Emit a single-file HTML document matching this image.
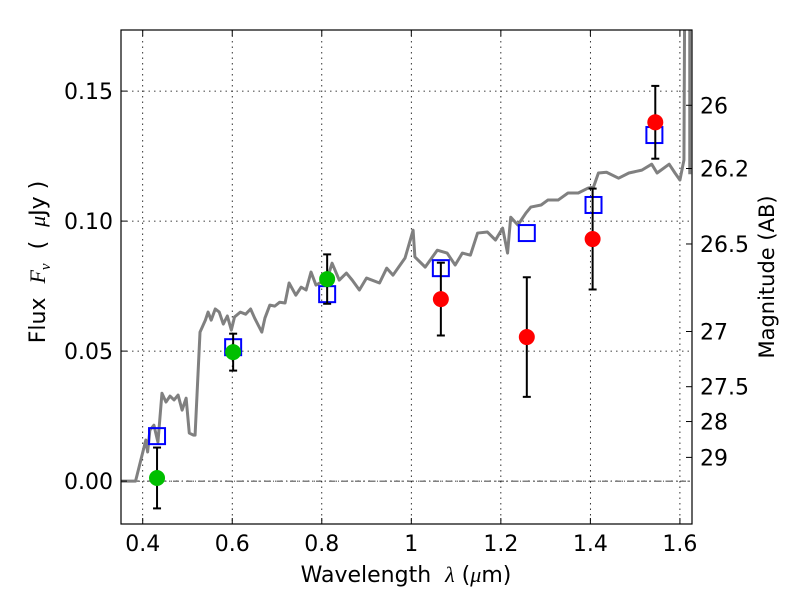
<!DOCTYPE html>
<html><head><meta charset="utf-8"><style>
html,body{margin:0;padding:0;background:#fff;}
svg{display:block;font-family:"DejaVu Sans","Liberation Sans",sans-serif;}
</style></head><body>
<svg id="chart" width="800" height="600" viewBox="0 0 800 600" xmlns="http://www.w3.org/2000/svg">
<defs><clipPath id="clip"><rect x="121" y="30" width="571" height="494"/></clipPath></defs>
<rect width="800" height="600" fill="#fff"/>
<g id="grid"></g>
<g id="plot" clip-path="url(#clip)"></g>
<g id="marks"></g>
<rect x="121" y="30" width="571" height="494" fill="none" stroke="#000" stroke-width="1.2"/>
<g id="axes"></g>
<text x="406" y="582" font-size="22" text-anchor="middle" xml:space="preserve">Wavelength  <tspan font-style="italic" font-family="Liberation Serif,serif">λ</tspan> (<tspan font-style="italic" font-family="Liberation Serif,serif">μ</tspan>m)</text>
<text transform="translate(45,262) rotate(-90)" font-size="22" text-anchor="middle" xml:space="preserve">Flux  <tspan font-style="italic" font-family="Liberation Serif,serif">F</tspan><tspan font-style="italic" font-family="Liberation Serif,serif" font-size="15" dy="5">ν</tspan><tspan dy="-5">  (  </tspan><tspan font-style="italic" font-family="Liberation Serif,serif">μ</tspan>Jy )</text>
<text transform="translate(774,277) rotate(-90)" font-size="21" text-anchor="middle">Magnitude (AB)</text>
</svg>
<script>
const xTicks=[0.4,0.6,0.8,1.0,1.2,1.4,1.6];
const xTickLabels=["0.4","0.6","0.8","1","1.2","1.4","1.6"];
const yTicks=[0,0.05,0.10,0.15];
const yTickLabels=["0.00","0.05","0.10","0.15"];
const magTicks=[26,26.2,26.5,27,27.5,28,29];
const magTickLabels=["26","26.2","26.5","27","27.5","28","29"];
const specWave=[0.35,0.384,0.407,0.411,0.416,0.425,0.434,0.443,0.452,0.461,0.470,0.479,0.488,0.497,0.504,0.513,0.517,0.528,0.540,0.546,0.553,0.562,0.571,0.580,0.589,0.598,0.605,0.618,0.630,0.641,0.650,0.666,0.673,0.684,0.695,0.706,0.718,0.727,0.742,0.754,0.765,0.776,0.787,0.799,0.808,0.823,0.839,0.855,0.868,0.884,0.900,0.929,0.945,0.959,0.986,1.004,1.008,1.031,1.058,1.080,1.098,1.114,1.132,1.148,1.170,1.188,1.204,1.215,1.222,1.238,1.256,1.267,1.290,1.305,1.328,1.350,1.373,1.395,1.407,1.418,1.436,1.463,1.486,1.515,1.537,1.549,1.576,1.589,1.600,1.609,1.611];
const specFlux=[0,0,0.0158,0.0112,0.0196,0.0215,0.015,0.0338,0.0304,0.0327,0.0312,0.0331,0.0273,0.0319,0.0185,0.0177,0.0177,0.0573,0.0619,0.065,0.0619,0.0662,0.065,0.0604,0.0635,0.0581,0.0631,0.065,0.0642,0.0662,0.0627,0.0573,0.0627,0.0677,0.0673,0.0688,0.0685,0.0762,0.0715,0.0746,0.0735,0.0804,0.0754,0.0765,0.0754,0.0838,0.0773,0.08,0.0773,0.0735,0.0781,0.0762,0.0819,0.0792,0.0858,0.0965,0.0862,0.0823,0.0888,0.0877,0.0831,0.0877,0.0869,0.0954,0.0958,0.0927,0.0973,0.0877,0.1015,0.0985,0.1031,0.1054,0.1062,0.1081,0.1081,0.1108,0.1108,0.1127,0.1131,0.1185,0.1188,0.1165,0.1185,0.1196,0.1219,0.1185,0.1219,0.1185,0.1158,0.1235,0.2];
const greenWave=[0.432,0.602,0.812];
const greenFlux=[0.0012,0.0496,0.0777];
const greenErr=[0.0117,0.0071,0.0095];
const redWave=[1.066,1.258,1.405,1.545];
const redFlux=[0.0700,0.0554,0.0931,0.138];
const redErr=[0.014,0.023,0.0194,0.014];
const modelWave=[0.432,0.602,0.812,1.066,1.258,1.407,1.543];
const modelFlux=[0.0173,0.0515,0.0719,0.0819,0.0954,0.1062,0.1331];

const X0=121,X1=692,Y0=524,Y1=30,xmin=0.3515,xmax=1.627,ymin=-0.0165,ymax=0.1735;
const sx=v=>X0+(v-xmin)/(xmax-xmin)*(X1-X0);
const sy=v=>Y0-(v-ymin)/(ymax-ymin)*(Y0-Y1);
const magToFlux=m=>Math.pow(10,(23.9-m)/2.5);
const NS="http://www.w3.org/2000/svg";
function mk(tag,attrs,parent){const e=document.createElementNS(NS,tag);for(const k in attrs)e.setAttribute(k,attrs[k]);parent.appendChild(e);return e;}
const grid=document.getElementById('grid'),plot=document.getElementById('plot'),marks=document.getElementById('marks'),axes=document.getElementById('axes');

xTicks.forEach((t,i)=>{
  const x=sx(t);
  const g=mk('line',{x1:x,x2:x,y1:Y1,y2:Y0,stroke:'#000','stroke-width':0.8,'stroke-dasharray':'1.5,4'},grid);
  
  
  mk('line',{x1:x,x2:x,y1:Y0,y2:Y0-6,stroke:'#000'},axes);
  mk('line',{x1:x,x2:x,y1:Y1,y2:Y1+6,stroke:'#000'},axes);
  const tl=mk('text',{x:x,y:Y0+27,'font-size':22,'text-anchor':'middle'},axes);
  tl.textContent=xTickLabels[i];
  
  
});
yTicks.forEach((t,i)=>{
  const y=sy(t);
  const g=mk('line',{x1:X0,x2:X1,y1:y,y2:y,stroke:'#000','stroke-width':0.8,'stroke-dasharray':'1.5,4'},grid);
  
  
  mk('line',{x1:X0,x2:X0+6,y1:y,y2:y,stroke:'#000'},axes);
  const tl=mk('text',{x:X0-8,y:y+8,'font-size':22,'text-anchor':'end'},axes);
  tl.textContent=yTickLabels[i];
  
  
});
magTicks.forEach((m,i)=>{
  const y=sy(magToFlux(m));
  mk('line',{x1:X1,x2:X1-6,y1:y,y2:y,stroke:'#000'},axes);
  const tl=mk('text',{x:X1+8,y:y+8,'font-size':22,'text-anchor':'start'},axes);
  tl.textContent=magTickLabels[i];
  
  
});
const zl=mk('line',{x1:X0,x2:X1,y1:sy(0),y2:sy(0),stroke:'#000','stroke-width':0.7,'stroke-dasharray':'6,3,1,3'},plot);


const sp=mk('polyline',{points:specWave.map((w,i)=>sx(w)+','+sy(specFlux[i])).join(' '),fill:'none',stroke:'#808080','stroke-width':3,'stroke-linejoin':'round'},plot);


const sp2=mk('line',{x1:sx(1.622),x2:sx(1.622),y1:sy(0.2),y2:sy(0.118),stroke:'#808080','stroke-width':3},plot);



function errbar(w,f,e,name){
  const x=sx(w),g=mk('g',{},marks);
  
  
  mk('line',{x1:x,x2:x,y1:sy(f-e),y2:sy(f+e),stroke:'#000','stroke-width':2},g);
  mk('line',{x1:x-4,x2:x+4,y1:sy(f-e),y2:sy(f-e),stroke:'#000','stroke-width':2},g);
  mk('line',{x1:x-4,x2:x+4,y1:sy(f+e),y2:sy(f+e),stroke:'#000','stroke-width':2},g);
}
modelWave.forEach((w,i)=>{
  const r=mk('rect',{x:sx(w)-8,y:sy(modelFlux[i])-8,width:16,height:16,fill:'none',stroke:'#0000ff','stroke-width':2},marks);
  
  
});
greenWave.forEach((w,i)=>{
  errbar(w,greenFlux[i],greenErr[i],'green-errorbar');
  const c=mk('circle',{cx:sx(w),cy:sy(greenFlux[i]),r:8,fill:'#00bf00'},marks);
  
  
});
redWave.forEach((w,i)=>{
  errbar(w,redFlux[i],redErr[i],'red-errorbar');
  const c=mk('circle',{cx:sx(w),cy:sy(redFlux[i]),r:8,fill:'#ff0000'},marks);
  
  
});
</script>
</body></html>
